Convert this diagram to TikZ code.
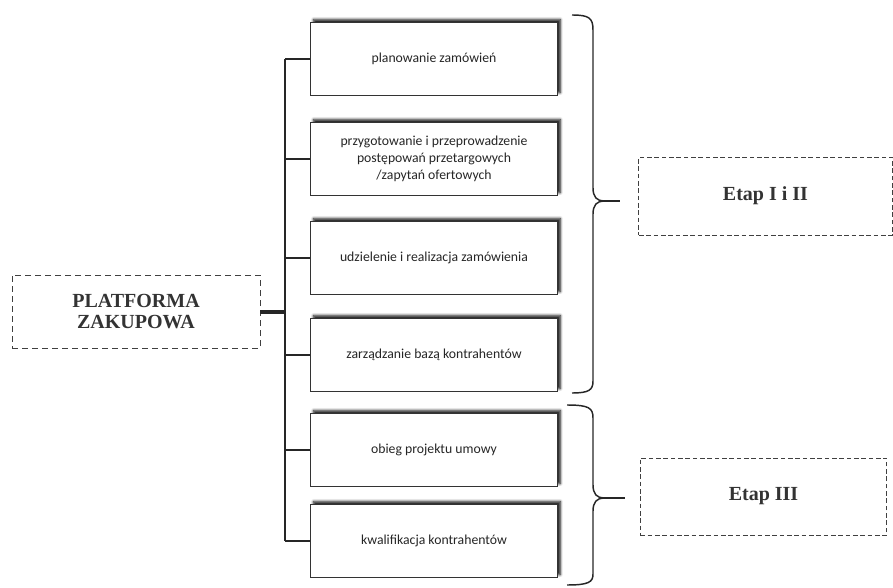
\documentclass[tikz,border=0pt]{standalone}
\usepackage{fontspec}
\setmainfont{Liberation Serif}
\newfontfamily\boxfont{Carlito}
\usetikzlibrary{positioning, shadows, shadows.blur}

\begin{document}
\begin{tikzpicture}[x=0.75pt, y=-0.75pt,
                stage/.style={rectangle, minimum width=185pt, minimum height=54.75pt, text centered, fill=white, draw=black!80, line width=0.8pt, align=center, font=\boxfont\fontsize{10.3}{13}\selectfont, text=black!85, blur shadow={shadow xshift=2.2pt, shadow yshift=2.2pt, shadow opacity=95, shadow blur radius=2pt, shadow blur steps=6}},
                phase/.style={rectangle, draw=black!75, dash pattern=on 4.5pt off 3pt, line width=0.6pt, align=center, font=\bfseries\fontsize{15}{16}\selectfont, text=black!80},
                link/.style={draw=black!85, line width=1.1pt},
                trunk/.style={draw=black!85, line width=3pt},
                bracket/.style={draw=black!85, line width=1.1pt}
            ]

            \useasboundingbox (0,0) rectangle (893,588);

            % platform on the left
            \node (platform) at (136,311.5) [phase, minimum width=186pt, minimum height=54.75pt] {PLATFORMA\\ZAKUPOWA};

            % modules
            \node (plan) at (434,59) [stage] {planowanie zamówień};
            \node (przetarg) at (434,159) [stage] {przygotowanie i przeprowadzenie\\ postępowań przetargowych\\ /zapytań ofertowych};
            \node (realizacja) at (434,258) [stage] {udzielenie i realizacja zamówienia};
            \node (baza) at (434,355) [stage] {zarządzanie bazą kontrahentów};
            \node (umowa) at (434,450) [stage] {obieg projektu umowy};
            \node (kwalifikacja) at (434,541) [stage] {kwalifikacja kontrahentów};

            % phases
            \node (etap1) at (765.5,196) [phase, dash pattern=on 3.5pt off 2pt, minimum width=190pt, minimum height=58.5pt] {Etap I i II};
            \node (etap3) at (763.5,496.5) [phase, dash pattern=on 3.5pt off 2pt, minimum width=185pt, minimum height=57.75pt] {Etap III};

            % bus
            \coordinate (bus) at (285,0);
            \draw [link] (plan.west -| bus) -- (kwalifikacja.west -| bus);
            \foreach \m in {plan, przetarg, realizacja, baza, umowa, kwalifikacja}
                \draw [link] (\m.west -| bus) -- (\m.west);
            \draw [trunk] (platform.east) -- (platform.east -| bus);

            % brackets
            \coordinate (tip1) at (604,201);
            \coordinate (end1) at (620,201);
            \draw [bracket] (572,15) .. controls (589,15) and (593,18) .. (593,30) -- (593,188) .. controls (593,197) and (597,201) .. (tip1)
                .. controls (597,201) and (593,205) .. (593,214) -- (593,381) .. controls (593,390) and (589,393) .. (572,393);
            \draw [bracket] (tip1) -- (end1);

            \coordinate (tip2) at (604,498);
            \coordinate (end2) at (625,498);
            \draw [bracket] (567,405) .. controls (589,405) and (593,408) .. (593,418) -- (593,485) .. controls (593,494) and (597,498) .. (tip2)
                .. controls (597,498) and (593,502) .. (593,511) -- (593,574) .. controls (593,582) and (589,585) .. (567,585);
            \draw [bracket] (tip2) -- (end2);
        \end{tikzpicture}
\end{document}
